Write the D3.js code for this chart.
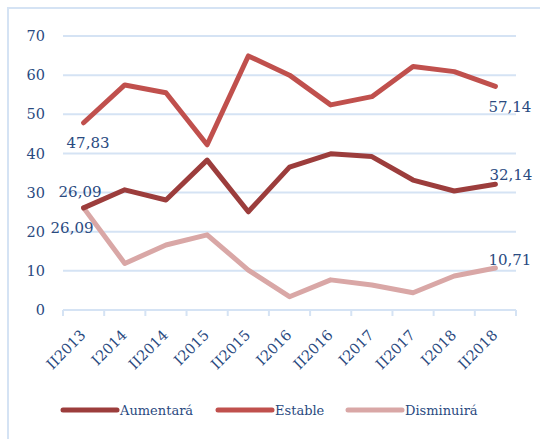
<!DOCTYPE html>
<html lang="es">
<head>
<meta charset="utf-8">
<script src="https://d3js.org/d3.v7.min.js"></script>
<style>
  body { margin: 0; background: #fff; }
  text { font-family: "DejaVu Serif", "Liberation Serif", serif; fill: #2a4a7f; }
</style>
</head>
<body>
<script>
// categories (semesters)
var periods = ["II2013", "I2014", "II2014", "I2015", "II2015", "I2016", "II2016", "I2017", "II2017", "I2018", "II2018"];
// series values
var aumentara = [26.09, 30.7, 28.1, 38.3, 25.1, 36.5, 39.9, 39.2, 33.2, 30.4, 32.14];
var estable = [47.83, 57.5, 55.5, 42.2, 64.9, 60.0, 52.4, 54.5, 62.2, 60.9, 57.14];
var disminuira = [26.09, 11.9, 16.6, 19.2, 10.2, 3.4, 7.7, 6.4, 4.4, 8.7, 10.71];
var yTicks = [0, 10, 20, 30, 40, 50, 60, 70];

var series = [
  { name: "Aumentará", values: aumentara, color: "#9c3d3c" },
  { name: "Estable", values: estable, color: "#c0504d" },
  { name: "Disminuirá", values: disminuira, color: "#d9a7a6" }
];

// labels shown on first / last point: [series index, point index, dx, dy]
var pointLabels = [
  [1, 0, -17, 20],
  [0, 0, -25, -16],
  [2, 0, -33, 20],
  [1, 10, -7, 20],
  [0, 10, -6, -9],
  [2, 10, -7, -8]
];

var width = 540, height = 439;
var svg = d3.select("body").append("svg")
  .attr("width", width)
  .attr("height", height);

// outer frame
svg.append("rect")
  .attr("x", 8).attr("y", 8)
  .attr("width", 560).attr("height", 460)
  .attr("fill", "none")
  .attr("stroke", "#d5e3f4")
  .attr("stroke-width", 2);

var x = d3.scaleBand().domain(periods).range([63, 516]);
var y = d3.scaleLinear().domain([0, 70]).range([310, 36]);

// gridlines
svg.selectAll("line.grid")
  .data(yTicks)
  .join("line")
  .attr("class", "grid")
  .attr("x1", 63).attr("x2", 516)
  .attr("y1", function (d) { return y(d); })
  .attr("y2", function (d) { return y(d); })
  .attr("stroke", "#d5e3f4")
  .attr("stroke-width", 2);

// y tick labels
svg.selectAll("text.ytick")
  .data(yTicks)
  .join("text")
  .attr("class", "ytick")
  .attr("x", 45)
  .attr("y", function (d) { return y(d); })
  .attr("dy", "0.35em")
  .attr("text-anchor", "end")
  .attr("font-size", 14.5)
  .text(function (d) { return d; });

// x axis ticks
var tickPos = periods.map(function (p) { return x(p); }).concat([516]);
svg.selectAll("line.xtick")
  .data(tickPos)
  .join("line")
  .attr("class", "xtick")
  .attr("x1", function (d) { return d; })
  .attr("x2", function (d) { return d; })
  .attr("y1", 310).attr("y2", 316)
  .attr("stroke", "#d5e3f4")
  .attr("stroke-width", 2);

// x labels rotated
svg.selectAll("text.xlab")
  .data(periods)
  .join("text")
  .attr("class", "xlab")
  .attr("text-anchor", "end")
  .attr("font-size", 14.5)
  .attr("transform", function (d) {
    return "translate(" + (x(d) + x.bandwidth() / 2 + 3) + ",336) rotate(-45)";
  })
  .text(function (d) { return d; });

var line = d3.line()
  .x(function (d, i) { return x(periods[i]) + x.bandwidth() / 2; })
  .y(function (d) { return y(d); });

// draw in order so the light series is under the others
[2, 1, 0].forEach(function (k) {
  var s = series[k];
  svg.append("path")
    .datum(s.values)
    .attr("d", line)
    .attr("fill", "none")
    .attr("stroke", s.color)
    .attr("stroke-width", 5)
    .attr("stroke-linejoin", "round")
    .attr("stroke-linecap", "round");
});

// value labels
pointLabels.forEach(function (l) {
  var s = series[l[0]];
  var v = s.values[l[1]];
  svg.append("text")
    .attr("x", x(periods[l[1]]) + x.bandwidth() / 2 + l[2])
    .attr("y", y(v) + l[3])
    .attr("dy", "0.35em")
    .attr("font-size", 15)
    .text(v.toFixed(2).replace(".", ","));
});

// legend
var legendX = [63, 218, 348];
series.forEach(function (s, i) {
  svg.append("line")
    .attr("x1", legendX[i]).attr("x2", legendX[i] + 54)
    .attr("y1", 410).attr("y2", 410)
    .attr("stroke", s.color)
    .attr("stroke-width", 5)
    .attr("stroke-linecap", "round");
  svg.append("text")
    .attr("x", legendX[i] + 57)
    .attr("y", 410)
    .attr("dy", "0.35em")
    .attr("font-size", 13)
    .text(s.name);
});
</script>
</body>
</html>
